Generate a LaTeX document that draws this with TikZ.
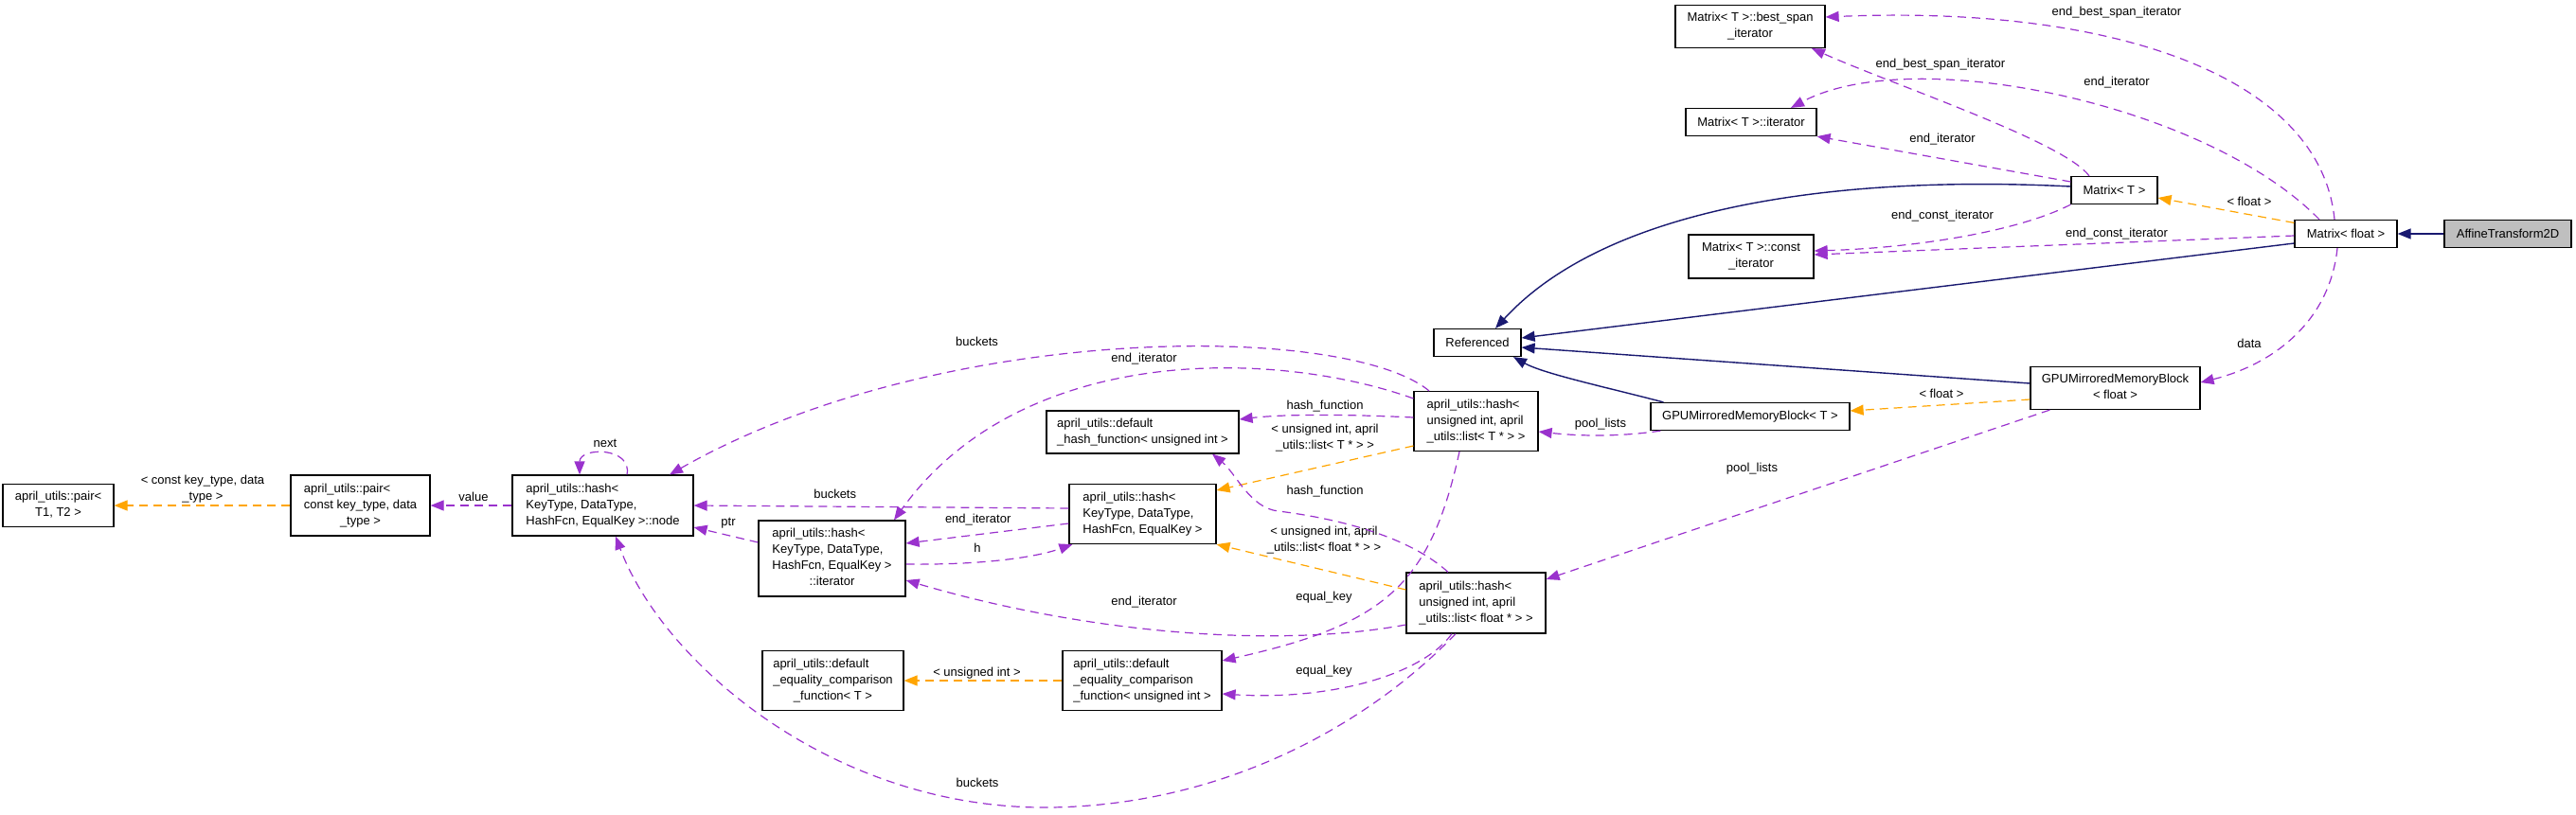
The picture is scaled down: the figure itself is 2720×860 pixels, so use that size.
\documentclass[tikz,border=0pt]{standalone}
\usepackage{fontspec}
\setmainfont{Liberation Sans}
\usetikzlibrary{arrows.meta}
\definecolor{navyc}{HTML}{191970}
\definecolor{purpc}{HTML}{9A32CD}
\definecolor{orngc}{HTML}{FFA500}
\newcommand\dxf{\fontsize{13pt}{17pt}\selectfont}
\newcommand\mlab[2]{\begin{tabular}{@{}l@{}}#1\\\multicolumn{1}{@{}c@{}}{#2}\end{tabular}}
\tikzset{
  box/.style={draw=black, line width=1.2pt, fill=white, inner sep=0pt, font=\dxf, align=center},
  tip/.style={-{Triangle[length=14pt,width=11pt]}},
  usee/.style={draw=purpc, line width=1.2pt, dash pattern=on 9pt off 6pt, tip, color=purpc},
  tmpl/.style={draw=orngc, line width=1.2pt, dash pattern=on 9pt off 6pt, tip, color=orngc},
  inh/.style={draw=navyc, line width=1.4pt, tip, color=navyc},
  elab/.style={font=\dxf, inner sep=0pt, align=center, text=black},
}
\begin{document}
\begin{tikzpicture}[x=1pt,y=-1pt]
\useasboundingbox (0,0) rectangle (2720,860);
% nodes
\node[box, fill=gray!50, minimum width=134pt, minimum height=29pt] (aff) at (2648,247) {AffineTransform2D};
\node[box, minimum width=108pt, minimum height=29pt] (mf) at (2477,247) {Matrix< float >};
\node[box, minimum width=91pt, minimum height=29pt] (mt) at (2232.5,201) {Matrix< T >};
\node[box, minimum width=158pt, minimum height=45pt] (bsi) at (1848,28) {\mlab{Matrix< T >::best\_span}{\_iterator}};
\node[box, minimum width=138pt, minimum height=29pt] (mit) at (1849,129) {Matrix< T >::iterator};
\node[box, minimum width=132pt, minimum height=46pt] (mci) at (1849,271) {\mlab{Matrix< T >::const}{\_iterator}};
\node[box, minimum width=92pt, minimum height=29pt] (ref) at (1560,362) {Referenced};
\node[box, minimum width=179pt, minimum height=45pt] (gf) at (2233.5,410) {\mlab{GPUMirroredMemoryBlock}{< float >}};
\node[box, minimum width=210pt, minimum height=29pt] (gt) at (1848,440) {GPUMirroredMemoryBlock< T >};
\node[box, minimum width=131pt, minimum height=63pt] (lt) at (1558.5,445) {\mlab{april\_utils::hash<\\unsigned int, april}{\_utils::list< T * > >}};
\node[box, minimum width=203pt, minimum height=45pt] (dh) at (1206.5,456.5) {\mlab{april\_utils::default}{\_hash\_function< unsigned int >}};
\node[box, minimum width=155pt, minimum height=63pt] (hk) at (1206.5,543) {\mlab{april\_utils::hash<\\KeyType, DataType,}{HashFcn, EqualKey >}};
\node[box, minimum width=147pt, minimum height=64pt] (lf) at (1558.5,637) {\mlab{april\_utils::hash<\\unsigned int, april}{\_utils::list< float * > >}};
\node[box, minimum width=155pt, minimum height=80pt] (hit) at (878.5,590) {\mlab{april\_utils::hash<\\KeyType, DataType,\\HashFcn, EqualKey >}{::iterator}};
\node[box, minimum width=191pt, minimum height=64pt] (hn) at (636.5,534) {\mlab{april\_utils::hash<\\KeyType, DataType,}{HashFcn, EqualKey >::node}};
\node[box, minimum width=147pt, minimum height=64pt] (pc) at (380.5,534) {\mlab{april\_utils::pair<\\const key\_type, data}{\_type >}};
\node[box, minimum width=117pt, minimum height=45pt] (p12) at (61.5,534) {\mlab{april\_utils::pair<}{T1, T2 >}};
\node[box, minimum width=149pt, minimum height=63pt] (deT) at (879.5,719) {\mlab{april\_utils::default\\\_equality\_comparison}{\_function< T >}};
\node[box, minimum width=168pt, minimum height=63pt] (deU) at (1206,719) {\mlab{april\_utils::default\\\_equality\_comparison}{\_function< unsigned int >}};
% inheritance
\draw[inh] (aff.west) -- (mf.east);
\draw[inh] ([yshift=4pt]mt.west) .. controls (1950,185) and (1700,215) .. ([xshift=19pt]ref.north);
\draw[inh] ([yshift=-10pt]mf.west) -- ([yshift=5pt]ref.east);
\draw[inh] ([yshift=5pt]gf.west) -- ([yshift=-5pt]ref.east);
\draw[inh] ([xshift=14pt]gt.north west) .. controls (1700,410) and (1630,395) .. ([xshift=38pt]ref.south);
% template instances
\draw[tmpl] ([yshift=-3.5pt]mf.north west) -- ([yshift=-8pt]mt.east);
\node[elab] (l6) at (2375,213) {< float >};
\draw[tmpl] ([yshift=-12pt]gf.west) -- ([yshift=6pt]gt.east);
\node[elab] (l7) at (2050,416) {< float >};
\draw[tmpl] (pc.west) -- (p12.east);
\node[elab] (l8) at (214,516.5) {< const key\_type, data\\\_type >};
\draw[tmpl] ([yshift=-26pt]lt.west) -- ([yshift=25pt]hk.east);
\node[elab] (l9) at (1399,463) {< unsigned int, april\\\_utils::list< T * > >};
\draw[tmpl] ([yshift=14pt]lf.west) -- (hk.south east);
\node[elab] (l10) at (1398,570.5) {< unsigned int, april\\\_utils::list< float * > >};
\draw[tmpl] (deU.west) -- (deT.east);
\node[elab] (l11) at (1031.5,710.7) {< unsigned int >};
% usage
\draw[usee] ([xshift=-12pt]mf.north) .. controls (2450,80) and (2230,5) .. ([yshift=10pt]bsi.east);
\node[elab] (l12) at (2235,13) {end\_best\_span\_iterator};
\draw[usee] ([xshift=-26.5pt]mt.north) .. controls (2180,150) and (2000,90) .. ([xshift=65pt]bsi.south);
\node[elab] (l13) at (2049,68) {end\_best\_span\_iterator};
\draw[usee] ([xshift=-28pt]mf.north) .. controls (2330,110) and (2020,45) .. ([xshift=42pt]mit.north);
\node[elab] (l14) at (2235,87) {end\_iterator};
\draw[usee] ([yshift=9pt]mt.west) -- (mit.south east);
\node[elab] (l15) at (2051,147) {end\_iterator};
\draw[usee] (mt.south west) .. controls (2130,245) and (2020,262) .. ([yshift=6pt]mci.east);
\node[elab] (l16) at (2051,228) {end\_const\_iterator};
\draw[usee] ([yshift=-2pt]mf.west) -- ([yshift=2pt]mci.east);
\node[elab] (l17) at (2235,247) {end\_const\_iterator};
\draw[usee] ([xshift=-9pt]mf.south) .. controls (2460,340) and (2400,385) .. ([yshift=6pt]gf.east);
\node[elab] (l18) at (2375,363) {data};
\draw[usee] ([xshift=21pt]gf.south west) -- ([yshift=25pt]lf.east);
\node[elab] (l19) at (1850,495) {pool\_lists};
\draw[usee] ([xshift=11pt]gt.south west) .. controls (1720,460) and (1680,462) .. ([yshift=-11pt]lt.east);
\node[elab] (l20) at (1690,447.7) {pool\_lists};
\draw[usee] ([yshift=4pt]lt.west) .. controls (1430,438) and (1360,437) .. ([yshift=13.5pt]dh.east);
\node[elab] (l21) at (1399,428.7) {hash\_function};
\draw[usee] ([xshift=-29.5pt]lf.north) .. controls (1480,560) and (1390,545) .. (1350,540) .. controls (1320,537) and (1305,500) .. ([xshift=73.5pt]dh.south);
\node[elab] (l22) at (1399,519) {hash\_function};
\draw[usee] ([xshift=-17.5pt]lt.south) .. controls (1510,620) and (1460,660) .. ([yshift=21pt]deU.east);
\node[elab] (l23) at (1398,631) {equal\_key};
\draw[usee] ([xshift=-25.5pt]lf.south) .. controls (1500,715) and (1400,740) .. ([yshift=-14pt]deU.east);
\node[elab] (l24) at (1398,709) {equal\_key};
\draw[usee] ([xshift=-49.5pt]lt.north) .. controls (1420,340) and (990,340) .. ([xshift=70.5pt]hn.north);
\node[elab] (l25) at (1031.5,360.7) {buckets};
\draw[usee] ([yshift=24pt]lt.west) .. controls (1350,370) and (1080,360) .. ([xshift=65.5pt]hit.north);
\node[elab] (l26) at (1208,379) {end\_iterator};
\draw[usee] ([yshift=6pt]hk.west) -- (hn.east);
\node[elab] (l27) at (881.7,522) {buckets};
\draw[usee] ([yshift=-10pt]hk.west) -- ([yshift=16pt]hit.east);
\node[elab] (l28) at (1032.7,548.7) {end\_iterator};
\draw[usee] ([yshift=-6pt]hit.east) .. controls (1030,597) and (1090,590) .. ([xshift=4pt]hk.south west);
\node[elab] (l29) at (1032,579) {h};
\draw[usee] ([yshift=17pt]hit.west) -- ([yshift=-23pt]hn.east);
\node[elab] (l30) at (769,552.7) {ptr};
\draw[usee] ([yshift=-23pt]lf.west) .. controls (1350,685) and (1150,670) .. ([yshift=-23pt]hit.east);
\node[elab] (l31) at (1208,635.7) {end\_iterator};
\draw[usee] ([xshift=-21.5pt]lf.south) .. controls (1450,760) and (1300,850) .. (1110,853) .. controls (880,856) and (700,700) .. ([xshift=13.5pt]hn.south);
\node[elab] (l32) at (1032,826.7) {buckets};
\draw[usee] ([xshift=25.5pt]hn.north) .. controls (668,472) and (612,472) .. ([xshift=-24.5pt]hn.north);
\node[elab] (l33) at (639,468.7) {next};
\draw[usee] (hn.west) -- (pc.east);
\node[elab] (l34) at (500,525) {value};
\end{tikzpicture}
\end{document}
